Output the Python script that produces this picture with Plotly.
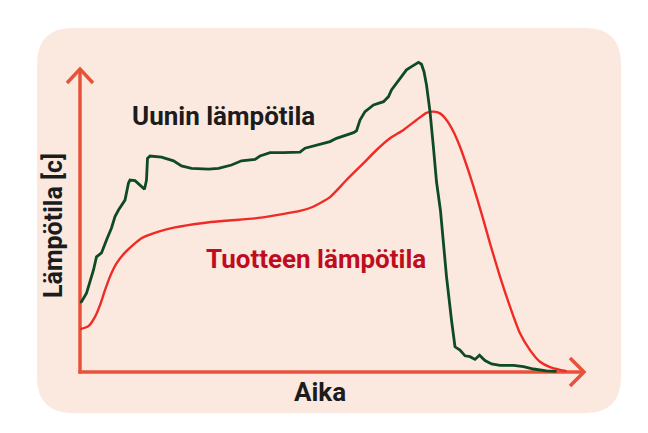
import plotly.graph_objects as go

# ---- data (time, temperature in arbitrary units) ----
oven_time = [0, 0.3, 1.3, 2.0, 2.7, 3.3, 4.3, 5.3, 6.3, 7.0, 7.7, 9.0, 9.7, 10.0, 11.0, 12.0,
             12.9, 13.3, 13.5, 14.0, 16.3, 18.7, 20.3, 22.3, 25.7, 27.7, 30.3, 32.3, 35.0, 36.0,
             38.0, 40.7, 44.0, 45.0, 47.3, 50.0, 51.3, 53.3, 54.7, 55.3, 56.0, 57.0, 58.7, 60.7,
             61.7, 62.3, 64.0, 65.3, 66.3, 67.7, 68.3, 68.8, 69.3, 70.0, 70.7, 71.3, 72.1, 73.3,
             74.3, 75.0, 76.0, 77.0, 78.0, 79.0, 79.9, 81.0, 82.3, 84.0, 86.7, 88.7, 90.7, 93.3, 95.3]
oven_temp = [23.3, 23.4, 26.3, 30.1, 34.0, 38.4, 39.7, 44.0, 48.0, 51.8, 54.0, 57.3, 63.0, 64.0,
             63.8, 62.3, 60.9, 64.0, 71.2, 72.0, 71.6, 70.4, 68.7, 67.9, 67.6, 67.9, 69.0, 70.4,
             70.9, 72.0, 73.1, 73.1, 73.3, 74.6, 75.7, 76.8, 77.9, 79.0, 79.8, 80.4, 84.0, 86.8,
             89.0, 90.1, 91.8, 94.0, 97.9, 100.7, 101.8, 103.2, 102.6, 100.1, 95.7, 86.8, 74.6,
             63.4, 53.7, 31.8, 17.3, 8.4, 7.3, 5.4, 5.1, 4.2, 5.6, 3.8, 2.7, 2.2, 2.2, 1.8, 1.0,
             0.4, 0.2]

product_time = [0, 1.7, 3.0, 4.0, 5.0, 6.0, 7.3, 9.0, 12.3, 15.7, 19.0, 24.3, 29.0, 35.0, 39.3,
                44.0, 46.5, 50.0, 53.3, 56.7, 59.3, 62.0, 64.7, 67.3, 69.3, 70.7, 72.0, 73.3,
                74.7, 76.0, 77.3, 78.7, 80.3, 82.0, 84.0, 86.0, 88.0, 90.0, 92.0, 94.0, 96.0, 97.3]
product_temp = [14.3, 15.3, 18.4, 22.3, 27.3, 31.8, 36.2, 39.8, 44.6, 46.8, 48.2, 49.6, 50.4,
                51.2, 52.3, 53.7, 55.0, 58.3, 64.0, 69.6, 74.0, 77.9, 80.7, 84.0, 86.4, 86.8,
                86.2, 84.0, 80.1, 75.1, 69.0, 61.8, 52.9, 42.9, 31.8, 21.8, 12.9, 7.3, 3.4, 1.6,
                0.7, 0.3]

oven_label = "Uunin lämpötila"
product_label = "Tuotteen lämpötila"
y_title = "Lämpötila [c]"
x_title = "Aika"

# ---- pixel helpers for decorations (page pixels) ----
PAGE_W, PAGE_H = 648, 433
BODY = 8                      # default page margin around the plot div
W, H = PAGE_W - BODY, PAGE_H - BODY
X0, XS = 80, 5.0              # page pixel of t=0, pixels per unit
Y0, YS = 372, 3.0             # page pixel of T=0, pixels per unit


def px(x):
    return (x - X0) / XS


def py(y):
    return (Y0 - y) / YS


AXIS = "#e8523a"
BG = "#fbe9df"
GREEN = "#0e4a22"
RED = "#ef2b25"
TEXT_RED = "#c00d1e"
TEXT_DARK = "#1c1c1c"

fig = go.Figure()
fig.add_trace(go.Scatter(x=product_time, y=product_temp, mode="lines",
                         line=dict(color=RED, width=2.4, shape="spline", smoothing=0.6),
                         hoverinfo="skip", showlegend=False))
fig.add_trace(go.Scatter(x=oven_time, y=oven_temp, mode="lines",
                         line=dict(color=GREEN, width=2.8),
                         hoverinfo="skip", showlegend=False))

# rounded background panel
l, t, r, b, rad = 37, 28, 621, 413, 36
path = (f"M {px(l+rad)},{py(t)} L {px(r-rad)},{py(t)} "
        f"Q {px(r)},{py(t)} {px(r)},{py(t+rad)} L {px(r)},{py(b-rad)} "
        f"Q {px(r)},{py(b)} {px(r-rad)},{py(b)} L {px(l+rad)},{py(b)} "
        f"Q {px(l)},{py(b)} {px(l)},{py(b-rad)} L {px(l)},{py(t+rad)} "
        f"Q {px(l)},{py(t)} {px(l+rad)},{py(t)} Z")
shapes = [dict(type="path", path=path, fillcolor=BG, line=dict(width=0), layer="below")]

# axes with arrows
aw = 3.5
shapes += [
    dict(type="line", x0=px(80), y0=py(373.5), x1=px(80), y1=py(69), line=dict(color=AXIS, width=aw), layer="below"),
    dict(type="line", x0=px(78.5), y0=py(372), x1=px(584), y1=py(372), line=dict(color=AXIS, width=aw), layer="below"),
    dict(type="path", path=f"M {px(67)},{py(83)} L {px(80)},{py(69)} L {px(93)},{py(83)}",
         line=dict(color=AXIS, width=aw), layer="below"),
    dict(type="path", path=f"M {px(570)},{py(358)} L {px(584)},{py(372)} L {px(570)},{py(386)}",
         line=dict(color=AXIS, width=aw), layer="below"),
]

FONT = "Roboto"
FS = 26
annotations = [
    dict(x=px(223), y=py(116), text=f"<b>{oven_label}</b>", showarrow=False,
         font=dict(family=FONT, size=FS, color=TEXT_DARK), xanchor="center", yanchor="middle"),
    dict(x=px(316), y=py(259), text=f"<b>{product_label}</b>", showarrow=False,
         font=dict(family=FONT, size=FS, color=TEXT_RED), xanchor="center", yanchor="middle"),
    dict(x=px(320), y=py(392), text=f"<b>{x_title}</b>", showarrow=False,
         font=dict(family=FONT, size=FS, color=TEXT_DARK), xanchor="center", yanchor="middle"),
    dict(x=px(53), y=py(226), text=f"<b>{y_title}</b>", showarrow=False, textangle=-90,
         font=dict(family=FONT, size=FS - 1, color=TEXT_DARK), xanchor="center", yanchor="middle"),
]

fig.update_layout(
    width=W, height=H,
    margin=dict(l=0, r=0, t=0, b=0),
    paper_bgcolor="white", plot_bgcolor="rgba(0,0,0,0)",
    xaxis=dict(range=[px(BODY), px(PAGE_W)], visible=False, fixedrange=True),
    yaxis=dict(range=[py(PAGE_H), py(BODY)], visible=False, fixedrange=True),
    shapes=shapes, annotations=annotations,
)

fig.write_html("out.html", config={"displayModeBar": False})
